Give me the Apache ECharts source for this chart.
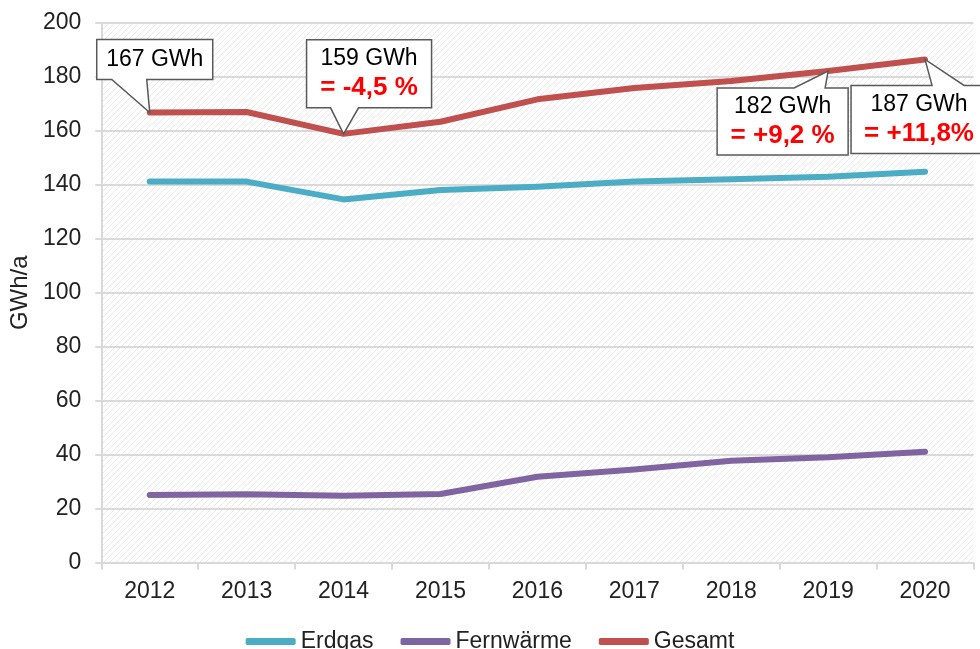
<!DOCTYPE html>
<html>
<head>
<meta charset="utf-8">
<script src="https://cdn.jsdelivr.net/npm/echarts@6/dist/echarts.min.js"></script>
<style>
html,body{margin:0;padding:0;background:#fff;}
#chart{width:980px;height:649px;}
</style>
</head>
<body>
<div id="chart"></div>
<script>
const years = ['2012','2013','2014','2015','2016','2017','2018','2019','2020'];
const erdgas = [141.2, 141.2, 134.6, 138.1, 139.3, 141.2, 142.1, 143.0, 144.9];
const fernwaerme = [25.0, 25.3, 24.7, 25.4, 31.8, 34.5, 37.7, 39.0, 41.1];
const gesamt = [166.8, 167.0, 158.9, 163.4, 171.7, 175.9, 178.5, 182.2, 186.5];
const seriesNames = ['Erdgas', 'Fernwärme', 'Gesamt'];
const yMin = 0, yMax = 200, yStep = 20;
const yAxisName = 'GWh/a';
const calloutYears = ['2012', '2014', '2019', '2020'];
const calloutLine1 = ['167 GWh', '159 GWh', '182 GWh', '187 GWh'];
const calloutLine2 = ['', '= -4,5 %', '= +9,2 %', '= +11,8%'];

const FONT = "'Liberation Sans', Arial, sans-serif";
const colors = ['#4bacc6', '#8064a2', '#c0504d'];

// callout geometry relative to the anchor point (layout only)
const calloutLayout = [
  {x0:-53, x1:63, y0:-73, y1:-33, edge:'bottom', w1:-38, w2:-3},
  {x0:-37, x1:88, y0:-94, y1:-26, edge:'bottom', w1:-13, w2:15},
  {x0:-111, x1:20, y0:17, y1:84, edge:'top', w1:-34, w2:-3},
  {x0:-74, x1:62, y0:26, y1:94, edge:'top', w1:7, w2:39}
];

// hatch pattern for plot background
const pc = document.createElement('canvas');
pc.width = 6; pc.height = 6;
const g = pc.getContext('2d');
g.fillStyle = '#ffffff'; g.fillRect(0,0,6,6);
g.strokeStyle = '#e9e9e9'; g.lineWidth = 1;
g.beginPath();
g.moveTo(0,6); g.lineTo(6,0);
g.moveTo(-1,1); g.lineTo(1,-1);
g.moveTo(5,7); g.lineTo(7,5);
g.stroke();

const calloutData = calloutYears.map((y, i) => {
  const idx = years.indexOf(y);
  return [idx, gesamt[idx], i];
});

const chart = echarts.init(document.getElementById('chart'), null, {renderer:'canvas'});
const lineSeries = [erdgas, fernwaerme, gesamt].map((d, i) => ({
  name: seriesNames[i],
  type: 'line',
  data: d,
  symbol: 'none',
  color: colors[i],
  lineStyle: {width: 6, color: colors[i], cap: 'round', join: 'round'},
  z: 3
}));

const option = {
  animation: false,
  grid: {left: 100.5, right: 6.5, top: 23, bottom: 86.5, show: true, borderWidth: 0,
         backgroundColor: {image: pc, repeat: 'repeat'}},
  legend: {
    data: seriesNames.map(n => ({name: n, icon: 'roundRect'})),
    top: 625, left: 'center', itemWidth: 50, itemHeight: 7, itemGap: 27,
    textStyle: {fontFamily: FONT, fontSize: 23, color: '#222'}
  },
  xAxis: {
    type: 'category', data: years, boundaryGap: true,
    axisLine: {show: true, lineStyle: {color: '#d9d9d9', width: 2}},
    axisTick: {show: true, length: 7, lineStyle: {color: '#d9d9d9', width: 2}},
    axisLabel: {fontFamily: FONT, fontSize: 23, color: '#222', margin: 18}
  },
  yAxis: {
    type: 'value', min: yMin, max: yMax, interval: yStep,
    name: yAxisName, nameLocation: 'middle', nameRotate: 90, nameGap: 64,
    nameTextStyle: {fontFamily: FONT, fontSize: 24, color: '#222'},
    axisLine: {show: true, lineStyle: {color: '#d9d9d9', width: 2}},
    axisTick: {show: true, length: 6, lineStyle: {color: '#d9d9d9', width: 2}},
    axisLabel: {fontFamily: FONT, fontSize: 23, color: '#222', margin: 20},
    splitLine: {show: true, lineStyle: {color: '#d9d9d9', width: 2}}
  },
  series: lineSeries.concat([{
    name: 'callouts', type: 'custom', clip: false, z: 10,
    data: calloutData,
    renderItem: function(params, api) {
      const p = api.coord([api.value(0), api.value(1)]);
      const k = api.value(2);
      const L = calloutLayout[k];
      const x0 = p[0]+L.x0, x1 = p[0]+L.x1, y0 = p[1]+L.y0, y1 = p[1]+L.y1;
      let pts;
      if (L.edge === 'bottom') {
        pts = [[x0,y0],[x1,y0],[x1,y1],[p[0]+L.w2,y1],[p[0],p[1]],[p[0]+L.w1,y1],[x0,y1]];
      } else {
        pts = [[x0,y0],[p[0]+L.w1,y0],[p[0],p[1]],[p[0]+L.w2,y0],[x1,y0],[x1,y1],[x0,y1]];
      }
      const cx = (x0+x1)/2;
      const children = [{
        type: 'polygon', shape: {points: pts},
        style: {fill: '#ffffff', stroke: '#595959', lineWidth: 1.5}
      }];
      const l2 = calloutLine2[k];
      if (!l2) {
        children.push({type:'text', style:{text: calloutLine1[k], x: cx, y: (y0+y1)/2, align:'center', verticalAlign:'middle',
          font: '23px ' + FONT, fill: '#000'}});
      } else {
        children.push({type:'text', style:{text: calloutLine1[k], x: cx, y: y0+19, align:'center', verticalAlign:'middle',
          font: '23px ' + FONT, fill: '#000'}});
        children.push({type:'text', style:{text: l2, x: cx, y: y0+48, align:'center', verticalAlign:'middle',
          font: 'bold 26px ' + FONT, fill: '#ff0000'}});
      }
      return {type: 'group', children: children};
    }
  }])
};
chart.setOption(option);
</script>
</body>
</html>
